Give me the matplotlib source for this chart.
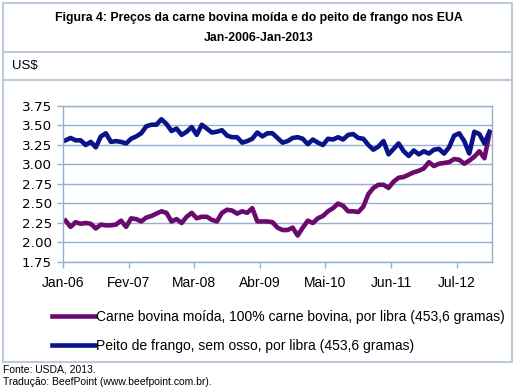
import matplotlib.pyplot as plt
from matplotlib.patches import Rectangle
from matplotlib.lines import Line2D
import numpy as np

# Preços mensais, Jan-2006 .. Jan-2013 (US$/libra)
carne_bovina = [
    2.28, 2.20, 2.26, 2.24, 2.25, 2.24, 2.18, 2.23, 2.22, 2.22,
    2.23, 2.28, 2.20, 2.31, 2.30, 2.27, 2.32, 2.34, 2.37, 2.40,
    2.38, 2.27, 2.30, 2.25, 2.33, 2.38, 2.31, 2.33, 2.33, 2.29,
    2.27, 2.38, 2.42, 2.41, 2.37, 2.40, 2.38, 2.44, 2.27, 2.27,
    2.27, 2.26, 2.19, 2.16, 2.16, 2.19, 2.09, 2.19, 2.28, 2.25,
    2.31, 2.34, 2.40, 2.44, 2.50, 2.47, 2.40, 2.40, 2.39, 2.46,
    2.62, 2.70, 2.74, 2.74, 2.70, 2.78, 2.83, 2.84, 2.87, 2.90,
    2.92, 2.95, 3.03, 2.98, 3.01, 3.02, 3.03, 3.07, 3.06, 3.01,
    3.05, 3.10, 3.17, 3.08, 3.40,
]
peito_frango = [
    3.31, 3.34, 3.31, 3.31, 3.25, 3.29, 3.22, 3.36, 3.40, 3.29,
    3.30, 3.29, 3.27, 3.33, 3.36, 3.40, 3.49, 3.51, 3.51, 3.58,
    3.52, 3.43, 3.46, 3.38, 3.42, 3.48, 3.38, 3.51, 3.46, 3.41,
    3.42, 3.44, 3.37, 3.35, 3.35, 3.28, 3.30, 3.33, 3.41, 3.36,
    3.40, 3.40, 3.34, 3.28, 3.30, 3.34, 3.35, 3.33, 3.26, 3.32,
    3.28, 3.25, 3.33, 3.32, 3.35, 3.32, 3.38, 3.39, 3.34, 3.33,
    3.25, 3.19, 3.23, 3.30, 3.13, 3.20, 3.27, 3.17, 3.11, 3.18,
    3.13, 3.17, 3.14, 3.19, 3.20, 3.14, 3.22, 3.37, 3.40, 3.30,
    3.14, 3.42, 3.39, 3.27, 3.42,
]
x_labels = ['Jan-06', 'Fev-07', 'Mar-08', 'Abr-09', 'Mai-10', 'Jun-11', 'Jul-12']
x_label_pos = [0, 13, 26, 39, 52, 65, 78]
y_ticks = [1.75, 2.00, 2.25, 2.50, 2.75, 3.00, 3.25, 3.50, 3.75]

COR_BOVINA = '#6a0a6e'
COR_FRANGO = '#0a1488'
COR_GRADE = '#95afcc'
COR_MOLDURA = '#bccbdb'

W, H = 518, 390
fig = plt.figure(figsize=(W / 100, H / 100), dpi=100)

def fx(px):
    return px / W

def fy(py):
    return 1 - py / H

# moldura e separadores da tabela
fig.patches.append(Rectangle((fx(3), fy(362)), fx(509), 359 / H, transform=fig.transFigure,
                             fill=False, edgecolor=COR_MOLDURA, lw=1.5))
for py in (52, 80):
    fig.lines.append(Line2D([fx(3), fx(512)], [fy(py), fy(py)], transform=fig.transFigure,
                            color=COR_MOLDURA, lw=1.5))

fig.text(0.5, fy(18), 'Figura 4: Preços da carne bovina moída e do peito de frango nos EUA',
         ha='center', va='center', fontsize=8.8, fontweight='bold', family='Liberation Sans')
fig.text(0.5, fy(38), 'Jan-2006-Jan-2013', ha='center', va='center', fontsize=8.8,
         fontweight='bold', family='Liberation Sans')
fig.text(fx(12), fy(66), 'US$', ha='left', va='center', fontsize=9.5, family='Liberation Sans')

ax = fig.add_axes([fx(63), fy(262), fx(429), 156 / H])
x = np.arange(len(carne_bovina))
ax.plot(x, carne_bovina, color=COR_BOVINA, lw=3.3,
        label='Carne bovina moída, 100% carne bovina, por libra (453,6 gramas)')
ax.plot(x, peito_frango, color=COR_FRANGO, lw=3.3,
        label='Peito de frango, sem osso, por libra (453,6 gramas)')

ax.set_xlim(-0.5, len(carne_bovina) - 0.5)
ax.set_ylim(1.75, 3.75)
ax.set_yticks(y_ticks)
ax.set_yticklabels([f'{v:.2f}' for v in y_ticks], family='DejaVu Sans', fontsize=9.7)
ax.set_xticks([p - 0.5 for p in x_label_pos])
ax.set_xticklabels(x_labels, family='Liberation Sans', fontsize=10)
ax.yaxis.grid(True, color=COR_GRADE, lw=1)
ax.set_axisbelow(True)
for s in ax.spines.values():
    s.set_color(COR_GRADE)
    s.set_linewidth(1)
ax.tick_params(axis='both', colors=COR_GRADE, length=4, width=1, labelcolor='black')
ax.tick_params(axis='x', pad=6)
ax.tick_params(axis='y', pad=4)

fig.legend(loc='upper left', bbox_to_anchor=(fx(52), fy(310)), frameon=False,
           prop={'family': 'Liberation Sans', 'size': 10}, handlelength=3.1,
           handletextpad=0.1, labelspacing=1.05, borderpad=0, borderaxespad=0)

fig.text(fx(3), fy(370), 'Fonte: USDA, 2013.', ha='left', va='center', fontsize=7.5,
         family='Liberation Sans')
fig.text(fx(3), fy(382), 'Tradução: BeefPoint (www.beefpoint.com.br).', ha='left', va='center',
         fontsize=7.5, family='Liberation Sans')

fig.savefig('out.png', dpi=100)
